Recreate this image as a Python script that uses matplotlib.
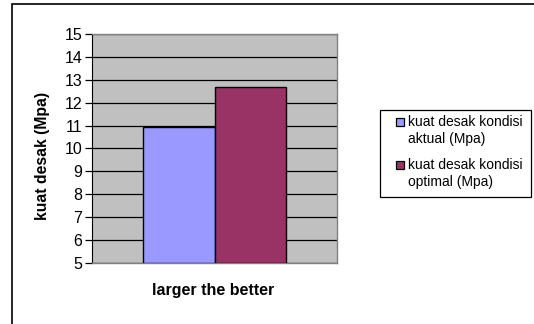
import matplotlib.pyplot as plt
from matplotlib.patches import Rectangle

plt.rcParams['font.family'] = ['Liberation Sans', 'DejaVu Sans']

# data
category = 'larger the better'
series_names = ['kuat desak kondisi\naktual (Mpa)', 'kuat desak kondisi\noptimal (Mpa)']
values = [10.95, 12.68]
colors = ['#9999FF', '#993366']
yticks = list(range(5, 16))

W, H = 534, 324


def fx(px):
    return px / W


def fy(py):
    return 1 - py / H


fig = plt.figure(figsize=(W / 100, H / 100), dpi=100)
ax = fig.add_axes([fx(92), fy(263), (337 - 92) / W, (263 - 34) / H])
ax.set_facecolor('#C0C0C0')

# outer chart frame (cropped on right and bottom)
fig.add_artist(Rectangle((fx(12), -0.1), 1.1, fy(4) + 0.1, transform=fig.transFigure,
                         fill=False, edgecolor='black', linewidth=1.2))

bar_w = 0.29
x0 = 0.5
offsets = [-bar_w / 2, bar_w / 2]
for v, c, off in zip(values, colors, offsets):
    ax.bar(x0 + off, v - 5, bottom=5, width=bar_w, color=c, edgecolor='black',
           linewidth=1.0, zorder=3)

ax.set_xlim(0, 1)
ax.set_ylim(5, 15)
ax.set_yticks(yticks)
ax.set_xticks([])
ax.yaxis.grid(True, color='black', linewidth=0.9)
ax.set_axisbelow(True)
ax.tick_params(axis='y', direction='out', length=5, width=0.9, labelsize=11.5, pad=2)

for side in ['top', 'right', 'bottom']:
    ax.spines[side].set_color('#808080')
    ax.spines[side].set_linewidth(1.0)
ax.spines['left'].set_color('black')

fig.text(fx(43), fy(156), 'kuat desak (Mpa)', fontsize=11.3, fontweight='bold',
         rotation=90, ha='center', va='center')
fig.text(fx(213), fy(291), category, fontsize=11.5, fontweight='bold',
         ha='center', va='center')

# legend drawn as a box with small squares, first line aligned to the marker
fig.add_artist(Rectangle((fx(380), fy(197)), (531 - 380) / W, (197 - 110) / H,
                         transform=fig.transFigure, facecolor='white',
                         edgecolor='black', linewidth=0.9))
for i, (name, c) in enumerate(zip(series_names, colors)):
    y1 = 122 + i * 43
    fig.add_artist(Rectangle((fx(396), fy(y1 + 4)), 8 / W, 8 / H,
                             transform=fig.transFigure, facecolor=c,
                             edgecolor='black', linewidth=0.9))
    for j, line in enumerate(name.split('\n')):
        fig.text(fx(408), fy(y1 + j * 16.5), line, fontsize=10,
                 ha='left', va='center')

plt.savefig('out.png', dpi=100)
